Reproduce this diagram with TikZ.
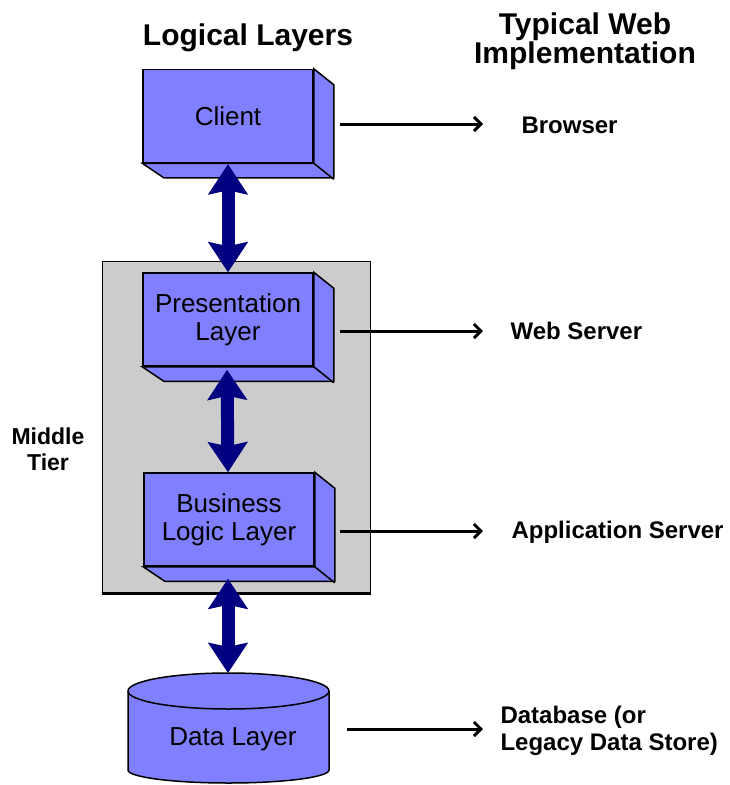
\documentclass[tikz,border=0pt]{standalone}
\usepackage{fontspec}
\setmainfont{Liberation Sans}
\usetikzlibrary{arrows.meta}
\definecolor{layerblue}{RGB}{128,128,255}
\definecolor{tiergray}{RGB}{204,204,204}
\definecolor{arrownavy}{RGB}{0,0,128}

\begin{document}
\begin{tikzpicture}[x=1pt, y=-1pt,
  layer/.style={draw, line width=1.5pt, fill=layerblue, minimum width=170pt,
    minimum height=93pt, align=center, font=\fontsize{26}{28}\selectfont},
  face/.style={draw, line width=1.5pt, fill=layerblue},
  head/.style={align=center, font=\fontsize{30}{29}\selectfont\bfseries},
  impl/.style={anchor=west, align=left, font=\fontsize{24}{27}\selectfont\bfseries},
  updown/.style={arrownavy, line width=13pt,
    {Stealth[length=30pt, width=39pt, inset=4pt]}-{Stealth[length=30pt, width=39pt, inset=4pt]}},
  toimpl/.style={line width=3pt, -{Straight Barb[length=7pt, width=14pt]}}]
\useasboundingbox (0,0) rectangle (729,785);

% headings
\node[head] (logical) at (248,38) {Logical Layers};
\node[head] (typical) at (585,41) {Typical Web\\Implementation};

% middle tier
\node[draw, line width=1pt, fill=tiergray, minimum width=268pt, minimum height=332pt] (middle) at (236,427) {};
\draw[line width=3pt] (middle.south west) -- (middle.south east);
\node[align=center, font=\fontsize{23}{26}\selectfont\bfseries] (tier) at (48,449) {Middle\\Tier};

% layers
\node[layer] (client) at (228,116) {Client};
\node[layer] (pres) at (228,319.5) {Presentation\\Layer};
\node[layer] (logic) at (229,519.5) {Business\\Logic Layer};
\foreach \n in {client,pres,logic} {
  \filldraw[face] (\n.north east) -- ++(20,16) -- ++(0,93) -- ++(-170,0)
    -- (\n.south west) -- (\n.south east) -- cycle;
  \draw[line width=1.5pt] (\n.south east) -- ++(20,16);
}

% data layer cylinder
\filldraw[face] (128,691) -- (128,770)
  arc[start angle=180, end angle=360, x radius=100.5pt, y radius=13pt]
  -- (329,691)
  arc[start angle=0, end angle=180, x radius=100.5pt, y radius=18pt] -- cycle;
\draw[line width=1.5pt] (128,691)
  arc[start angle=180, end angle=360, x radius=100.5pt, y radius=18pt];
\coordinate (dtop) at (228,673);
\node[font=\fontsize{26}{28}\selectfont] (data) at (233,739) {Data Layer};

% implementations
\node[impl] (browser) at (518,125) {Browser};
\node[impl] (web) at (507,331) {Web Server};
\node[impl] (app) at (508,532) {Application Server};
\node[impl] (db) at (497,731) {Database (or\\Legacy Data Store)};

\coordinate (c1) at (340,124);
\coordinate (c2) at (340,331);
\coordinate (c3) at (340,531);
\coordinate (c4) at (347,729);
\draw[toimpl, shorten >=35pt] (c1) -- (c1 -| browser.west);
\draw[toimpl, shorten >=24pt] (c2) -- (c2 -| web.west);
\draw[toimpl, shorten >=25pt] (c3) -- (c3 -| app.west);
\draw[toimpl, shorten >=14pt] (c4) -- (c4 -| db.west);

% layer to layer
\draw[updown] ([yshift=-1pt]client.south) -- (pres.north);
\draw[updown] ([xshift=-1pt, yshift=-3pt]pres.south) -- (logic.north -| pres);
\draw[updown] ([xshift=-1pt, yshift=-12pt]logic.south) -- (dtop);

\end{tikzpicture}
\end{document}
